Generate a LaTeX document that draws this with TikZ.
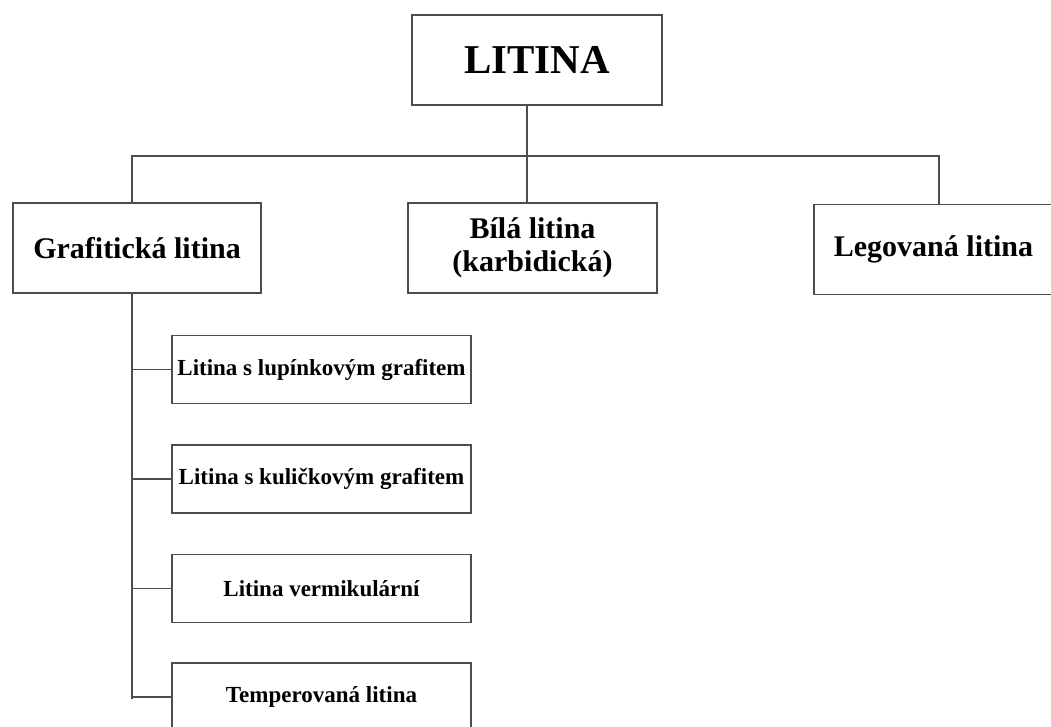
\documentclass[tikz,border=0pt]{standalone}
\usepackage{fontspec}
\setmainfont{Liberation Serif}
\usepackage{xcolor}
\usepackage{tikz}
\usetikzlibrary{positioning}
\definecolor{linegray}{HTML}{4D4D4D}

\begin{document}
\begin{tikzpicture}[x=1pt, y=-1pt, line width=1.6pt, draw=linegray,
    box/.style={draw=linegray, fill=white, inner sep=0pt, align=center, font=\bfseries},
    topbox/.style={box, minimum width=250pt, minimum height=90pt},
    mainbox/.style={box, minimum width=248pt, minimum height=90pt, font=\bfseries\fontsize{30}{33}\selectfont},
    subbox/.style={box, minimum width=299pt, minimum height=68pt, font=\bfseries\fontsize{23}{26}\selectfont}]
    \useasboundingbox (0,0) rectangle (1051,726);

    % ── Top level ───────────────────────────────────────────────
    \node[topbox, font=\bfseries\fontsize{41}{44}\selectfont] (litina) at (537,60) {LITINA};

    % ── Second level ────────────────────────────────────────────
    \node[mainbox] (graf) at (137,248) {Grafitická litina};
    \node[mainbox, minimum width=249pt] (bila) at (532.5,248) {Bílá litina\\(karbidická)};
    \node[mainbox, minimum width=239pt] (leg) at (933.5,249.5) {Legovaná litina};

    % ── Kinds of graphitic cast iron ────────────────────────────
    \node[subbox] (lup) at (321.5,369.5) {Litina s lupínkovým grafitem};
    \node[subbox] (kul) at (321.5,479) {Litina s kuličkovým grafitem};
    \node[subbox] (ver) at (321.5,588.5) {Litina vermikulární};
    \node[subbox] (tem) at (321.5,697) {Temperovaná litina};

    % Connectors
    \coordinate (bus) at (527,156);
    \coordinate (busL) at (132,156);
    \coordinate (busR) at (939,156);
    \coordinate (trunk) at (132,699);

    \draw (litina.south -| bus) -- (bila.north -| bus);
    \draw (graf.north -| busL) -- (busL) -- (busR) -- (leg.north -| busR);
    \draw (graf.south -| trunk) -- (trunk);
    \foreach \n in {lup,kul,ver,tem}{
        \draw (\n.west) -- (\n.west -| trunk);
    }
\end{tikzpicture}
\end{document}
